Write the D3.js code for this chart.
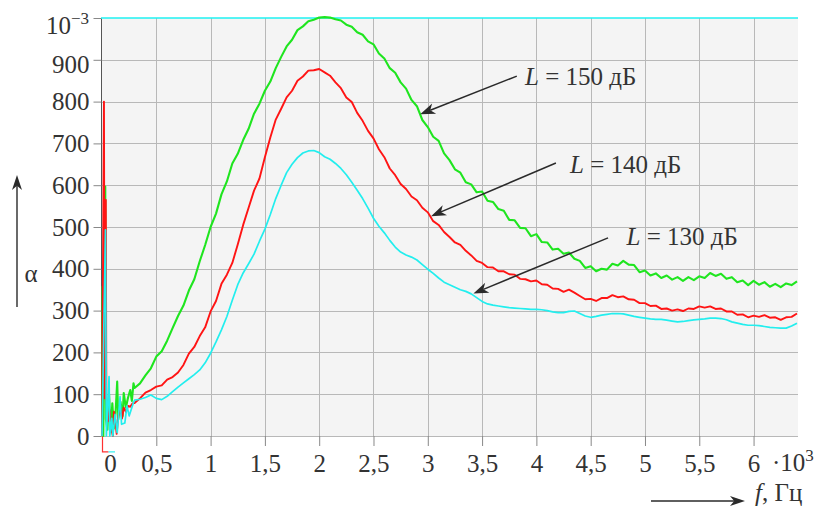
<!DOCTYPE html>
<html><head><meta charset="utf-8">
<script src="https://cdn.jsdelivr.net/npm/d3@7"></script>
<style>
body{margin:0;background:#fff}
svg{display:block}
text{font-family:"Liberation Serif","Times New Roman",serif;fill:#333}
</style>
</head><body>
<svg id="c" width="825" height="508"></svg>
<script>
// ---------- data ----------
const xTicks = [0,0.5,1,1.5,2,2.5,3,3.5,4,4.5,5,5.5,6];
const yTicks = [0,100,200,300,400,500,600,700,800,900];
const seriesNames = ["L = 150 дБ","L = 140 дБ","L = 130 дБ"];
const seriesLevels = ["150","140","130"];

const freq = [0.30,0.35,0.40,0.45,0.50,0.55,0.60,0.65,0.70,0.75,0.80,0.85,0.90,0.95,
1.00,1.05,1.10,1.15,1.20,1.25,1.30,1.35,1.40,1.45,1.50,1.55,1.60,1.65,1.70,1.75,1.80,1.85,1.90,1.95,
2.00,2.05,2.10,2.15,2.20,2.25,2.30,2.35,2.40,2.45,2.50,2.55,2.60,2.65,2.70,2.75,2.80,2.85,2.90,2.95,
3.00,3.05,3.10,3.15,3.20,3.25,3.30,3.35,3.40,3.45,3.50,3.55,3.60,3.65,3.70,3.75,3.80,3.85,3.90,3.95,
4.00,4.05,4.10,4.15,4.20,4.25,4.30,4.35,4.40,4.45,4.50,4.55,4.60,4.65,4.70,4.75,4.80,4.85,4.90,4.95,
5.00,5.05,5.10,5.15,5.20,5.25,5.30,5.35,5.40,5.45,5.50,5.55,5.60,5.65,5.70,5.75,5.80,5.85,5.90,5.95,
6.00,6.05,6.10,6.15,6.20,6.25,6.30,6.35,6.40];

const green150 = [115,126,145,162,190,203,228,258,287,312,348,375,418,457,
500,532,578,609,652,675,708,735,771,795,826,848,880,907,932,948,971,980,992,996,
1001,1002,1001,997,994,984,979,966,960,944,937,915,903,880,869,846,831,804,789,756,
739,716,706,676,660,638,630,607,602,583,585,563,560,543,539,517,516,498,497,478,
483,464,463,446,448,436,439,424,419,402,406,394,400,398,412,408,419,410,409,392,
396,384,389,378,384,374,380,371,380,373,382,378,390,383,388,376,380,368,372,361,
371,362,368,357,364,356,365,361,370];

const red140 = [79,90,104,110,118,121,135,141,152,170,197,213,239,260,
298,323,364,386,414,458,505,546,587,616,667,714,757,783,810,826,850,860,874,875,
878,870,862,846,832,810,799,773,754,730,712,686,667,640,624,603,591,573,564,546,
535,514,505,488,476,463,457,443,432,419,414,404,403,394,394,387,386,376,375,370,
372,363,362,353,352,345,350,343,335,327,328,323,330,330,337,332,334,327,326,318,
318,311,312,304,305,300,303,299,305,304,310,307,310,304,305,298,298,290,291,284,
288,285,289,283,284,278,284,285,293];

const cyan130 = [86,88,92,98,90,87,95,106,117,127,137,147,158,175,
198,225,254,286,325,362,390,412,435,466,495,530,568,600,630,650,666,677,682,683,
678,668,662,652,640,625,607,588,568,545,521,502,486,468,452,440,433,428,421,410,
399,389,378,368,362,356,350,346,340,331,322,316,313,311,309,307,306,305,304,303,
303,302,300,297,295,295,298,299,293,287,284,286,289,291,293,293,292,289,286,284,
282,280,279,279,277,275,273,274,276,278,279,280,282,282,281,278,273,270,267,265,
265,264,262,260,259,258,258,263,270];

// low-frequency noisy start [f, value]
const lowGreen = [[0,0],[0.005,357],[0.012,0],[0.03,597],[0.036,40],[0.05,15],[0.065,100],[0.08,10],[0.095,78],[0.11,18],[0.125,55],[0.14,130],[0.15,40],[0.17,82],[0.19,48],[0.2,103],[0.22,68],[0.24,92],[0.26,110],[0.275,84],[0.29,126]];
const lowRed = [[0,0],[0.018,800],[0.024,90],[0.035,565],[0.04,92],[0.055,35],[0.07,62],[0.085,18],[0.1,0],[0.11,58],[0.12,43],[0.135,5],[0.15,48],[0.17,64],[0.185,42],[0.2,68],[0.22,58],[0.24,72],[0.26,70],[0.28,78]];
const lowCyan = [[0,0],[0.032,493],[0.04,0],[0.065,142],[0.072,0],[0.09,42],[0.1,0],[0.12,52],[0.14,8],[0.166,94],[0.18,28],[0.21,31],[0.23,72],[0.25,48],[0.27,64],[0.29,80]];

// annotation anchors (data units)
const annoText = [[3.895,840],[4.31,629],[4.83,457]];
const annoFrom = [[3.82,861],[4.18,653],[4.66,474]];
const annoTo   = [[2.93,770],[3.03,526],[3.42,341]];

// ---------- chart ----------
const svg = d3.select('#c');
const x = d3.scaleLinear().domain([0,6.4]).range([102,797]);
const y = d3.scaleLinear().domain([0,1000]).range([436,18]);
const FONT = '"Liberation Serif","Times New Roman",serif';
const FS = 25;

// plot background
svg.append('rect').attr('x',101).attr('y',y(1000)).attr('width',798-101).attr('height',y(0)-y(1000)).attr('fill','#f4f4f4');

// grid
svg.append('g').selectAll('line').data(xTicks.slice(1)).join('line')
  .attr('x1',d=>Math.round(x(d))+0.5).attr('x2',d=>Math.round(x(d))+0.5)
  .attr('y1',y(1000)).attr('y2',y(0)).attr('stroke','#b8b8b8').attr('stroke-width',1);
svg.append('g').selectAll('line').data(yTicks).join('line')
  .attr('x1',101).attr('x2',798)
  .attr('y1',d=>Math.round(y(d))+0.5).attr('y2',d=>Math.round(y(d))+0.5)
  .attr('stroke','#b8b8b8').attr('stroke-width',1);

// y axis
const gy = svg.append('g').attr('transform','translate(101.5,0)')
  .call(d3.axisLeft(y).tickValues(yTicks).tickSize(8).tickPadding(4).tickFormat(d=>d));
gy.attr('font-family',FONT).attr('font-size',FS);
gy.select('.domain').attr('stroke','#555').attr('d',`M0,${y(1000)}V${y(0)}`);
gy.selectAll('.tick line').attr('stroke','#888');
gy.selectAll('.tick text').attr('fill','#333');
gy.selectAll('.tick').filter(d=>d===900).select('text').attr('transform','translate(0,5)');
// top tick + 10^-3 label
gy.append('line').attr('x1',-8).attr('x2',0).attr('y1',y(1000)+0.5).attr('y2',y(1000)+0.5).attr('stroke','#888');
const t3 = svg.append('text').attr('x',89).attr('y',34).attr('text-anchor','end').attr('font-size',FS);
t3.append('tspan').text('10');
t3.append('tspan').attr('dy',-10).attr('font-size',17).text('−3');

// x axis
const gx = svg.append('g').attr('transform','translate(0,436)')
  .call(d3.axisBottom(x).tickValues(xTicks).tickSize(10).tickPadding(8).tickFormat(d=>String(d).replace('.',',')));
gx.attr('font-family',FONT).attr('font-size',FS);
gx.select('.domain').remove();
gx.selectAll('.tick line').attr('stroke','#888');
gx.selectAll('.tick text').attr('fill','#333');
gx.selectAll('.tick').filter(d=>d===0).select('text').attr('dx',8);
const tx3 = svg.append('text').attr('x',772).attr('y',471).attr('font-size',FS);
tx3.append('tspan').text('·10');
tx3.append('tspan').attr('dy',-10).attr('font-size',17).text('3');

// top cyan border line at 10^-3
svg.append('line').attr('x1',101).attr('x2',798).attr('y1',y(1000)).attr('y2',y(1000))
  .attr('stroke','#1ff2f2').attr('stroke-width',1.6);

// small marks below zero at f=0
svg.append('path').attr('d',`M${x(0)+0.5},${y(0)}V${y(-38)}H${x(0.06)}`).attr('fill','none').attr('stroke','#ff3030').attr('stroke-width',1.2);
svg.append('path').attr('d',`M${x(0.06)},${y(-38)}H${x(0.12)}`).attr('fill','none').attr('stroke','#30f0f0').attr('stroke-width',1.2);

// curves
const line = d3.line().x(d=>x(d[0])).y(d=>y(d[1]));
const mk = (low, vals) => low.concat(freq.map((f,i)=>[f, vals[i]]));
const curves = [
  {data: mk(lowGreen, green150), color:'#1fe51f', w:2.1},
  {data: mk(lowRed, red140), color:'#ff1414', w:1.9},
  {data: mk(lowCyan, cyan130), color:'#22eeee', w:1.7}
];
curves.forEach(c=>{
  svg.append('path').datum(c.data).attr('d',line)
    .attr('fill','none').attr('stroke',c.color).attr('stroke-width',c.w).attr('stroke-linejoin','round');
});

// arrows
function arrow(x1,y1,x2,y2,len,hw,color,width){
  const a = Math.atan2(y2-y1,x2-x1), ca=Math.cos(a), sa=Math.sin(a);
  const bx = x2-len*ca, by = y2-len*sa;
  const nx = x2-len*0.72*ca, ny = y2-len*0.72*sa;
  svg.append('line').attr('x1',x1).attr('y1',y1).attr('x2',nx).attr('y2',ny)
    .attr('stroke',color).attr('stroke-width',width);
  svg.append('path').attr('d',`M${x2},${y2}L${bx-hw*sa},${by+hw*ca}L${nx},${ny}L${bx+hw*sa},${by-hw*ca}Z`)
    .attr('fill',color);
}

// annotations
seriesLevels.forEach((lv,i)=>{
  arrow(x(annoFrom[i][0]),y(annoFrom[i][1]),x(annoTo[i][0]),y(annoTo[i][1]),15,5.5,'#2a2a2a',1.5);
  const t = svg.append('text').attr('x',x(annoText[i][0])).attr('y',y(annoText[i][1])).attr('font-size',FS);
  t.append('tspan').attr('font-style','italic').text('L');
  t.append('tspan').text(' = ' + lv + ' дБ');
});

// axis titles
arrow(17,307,17,175,15,5,'#2a2a2a',1.4);
svg.append('text').attr('x',31).attr('y',282).attr('text-anchor','middle').attr('font-size',FS).text('α');
arrow(651,501,745,501,15,5,'#2a2a2a',1.4);
const ft = svg.append('text').attr('x',755).attr('y',501).attr('font-size',FS);
ft.append('tspan').attr('font-style','italic').text('f');
ft.append('tspan').text(', Гц');
</script>
</body></html>
